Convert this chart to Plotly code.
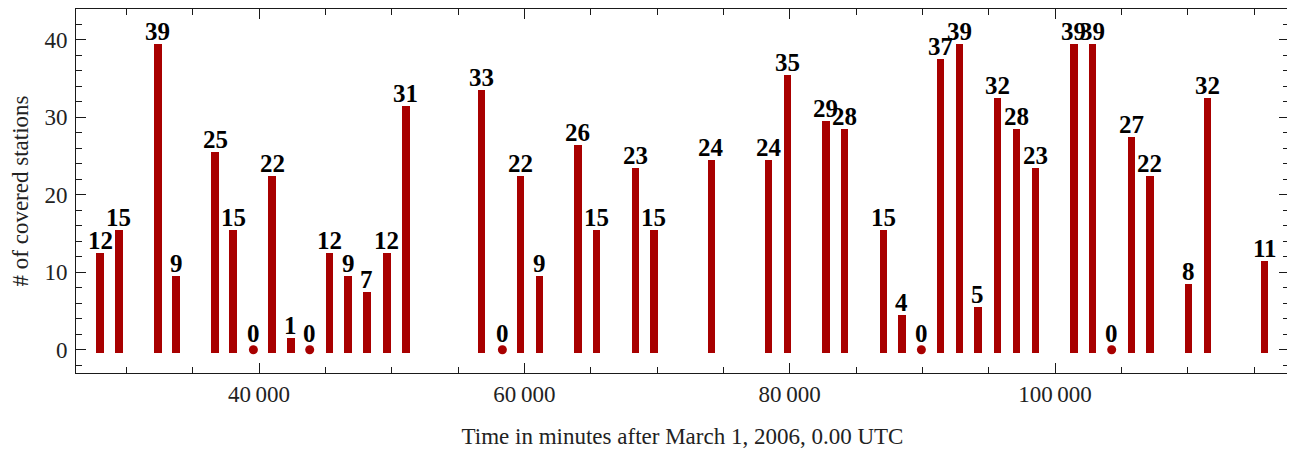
import plotly.graph_objects as go

# Data
times = [28030, 29440, 32380, 33759, 36699, 38055, 39578, 40995, 42404, 43822,
         45329, 46723, 48133, 49640, 51073, 56786, 58346, 59703, 61135, 64037,
         65454, 68371, 69766, 74100, 78419, 79828, 82738, 84147, 87064, 88466,
         89928, 91383, 92792, 94195, 95680, 97112, 98521, 101431, 102840, 104272,
         105757, 107159, 110076, 111486, 115805]
stations = [12, 15, 39, 9, 25, 15, 0, 22, 1, 0,
            12, 9, 7, 12, 31, 33, 0, 22, 9, 26,
            15, 23, 15, 24, 24, 35, 29, 28, 15, 4,
            0, 37, 39, 5, 32, 28, 23, 39, 39, 0,
            27, 22, 8, 32, 11]
x_tickvals = [40000, 60000, 80000, 100000]
x_ticktext = ["40\u2009000", "60\u2009000", "80\u2009000", "100\u2009000"]
y_tickvals = [0, 10, 20, 30, 40]

RED = "#a80000"
FRAME = "#1a1a1a"
BASE = -0.45
TOP_PAD = 0.5

bar_x = [t for t, v in zip(times, stations) if v > 0]
bar_v = [v for v in stations if v > 0]
dot_x = [t for t, v in zip(times, stations) if v == 0]
dot_v = [v for v in stations if v == 0]

fig = go.Figure()
fig.add_trace(go.Bar(
    x=bar_x, y=[v + TOP_PAD - BASE for v in bar_v], base=BASE,
    width=570, marker=dict(color=RED, line=dict(width=0)),
    hoverinfo="skip", showlegend=False,
))
fig.add_trace(go.Scatter(
    x=dot_x, y=dot_v, mode="markers",
    marker=dict(color=RED, size=9, line=dict(width=0)),
    hoverinfo="skip", showlegend=False,
))

for t, v in zip(times, stations):
    fig.add_annotation(
        x=t, y=v + TOP_PAD, text=str(v), showarrow=False,
        xanchor="center", yanchor="bottom", yshift=-3,
        font=dict(family="Liberation Serif", size=25, color="black", weight="bold"),
    )

axis_font = dict(family="Liberation Serif", size=23, color="#222")
# page body has an 8px default margin, so the figure is sized to fit the window
fig.update_layout(
    width=1287, height=442,
    margin=dict(l=68, r=6, t=1, b=77, autoexpand=False),
    paper_bgcolor="white", plot_bgcolor="white",
    font=axis_font,
    bargap=0,
    xaxis=dict(
        range=[26206, 117638], showgrid=False, zeroline=False, automargin=False,
        showline=True, linecolor=FRAME, linewidth=1, mirror="ticks",
        ticks="inside", ticklen=10, tickcolor=FRAME, tickwidth=1,
        tickvals=x_tickvals, ticktext=x_ticktext,
        tickfont=axis_font, ticklabelstandoff=0,
        minor=dict(dtick=5000, tick0=0, ticks="inside", ticklen=6,
                   tickcolor=FRAME, tickwidth=1, showgrid=False),
        title=dict(text="Time in minutes after March 1, 2006, 0.00 UTC",
                   font=axis_font, standoff=22),
    ),
    yaxis=dict(
        range=[-3, 44], showgrid=False, zeroline=False, automargin=False,
        showline=True, linecolor=FRAME, linewidth=1, mirror="ticks",
        ticks="inside", ticklen=10, tickcolor=FRAME, tickwidth=1,
        tickvals=y_tickvals, tickfont=axis_font, ticklabelstandoff=3,
        minor=dict(dtick=2, tick0=0, ticks="inside", ticklen=6,
                   tickcolor=FRAME, tickwidth=1, showgrid=False),
        title=dict(text="# of covered stations", font=axis_font, standoff=13),
    ),
)

fig.write_html("out.html")
